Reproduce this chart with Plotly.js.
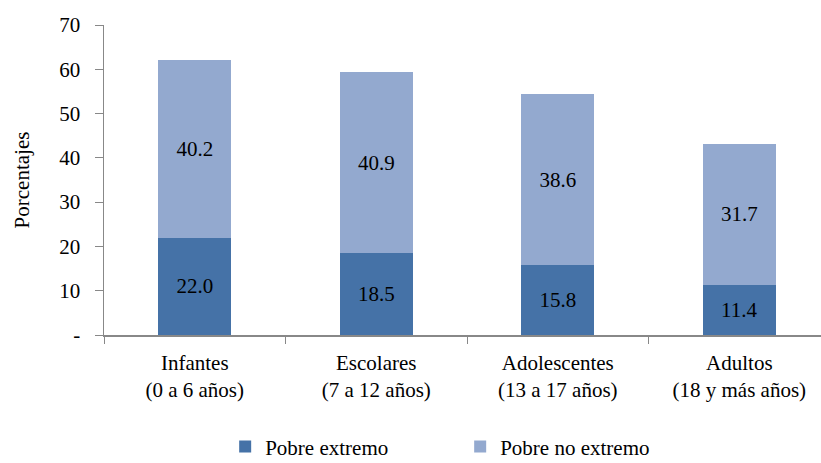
<!DOCTYPE html>
<html><head><meta charset="utf-8">
<script src="https://cdn.plot.ly/plotly-3.0.1.min.js"></script>
<style>body{margin:0}#c{width:821px;height:463px}</style>
</head><body><div id="c"></div>
<script>
const categories = ["Infantes<br>(0 a 6 años)", "Escolares<br>(7 a 12 años)", "Adolescentes<br>(13 a 17 años)", "Adultos<br>(18 y más años)"];
const extremo = [22.0, 18.5, 15.8, 11.4];
const noExtremo = [40.2, 40.9, 38.6, 31.7];
const yTickVals = [0, 10, 20, 30, 40, 50, 60, 70];
const yTickText = ["-", "10", "20", "30", "40", "50", "60", "70"];

const F = "Liberation Serif";
const traces = [
  {type:"bar", name:"Pobre extremo", x:categories, y:extremo, marker:{color:"#4572A7"},
   width:0.4, texttemplate:"%{y:.1f}", textposition:"inside", insidetextanchor:"middle",
   textfont:{family:F, size:21, color:"#000"}, hoverinfo:"none"},
  {type:"bar", name:"Pobre no extremo", x:categories, y:noExtremo, marker:{color:"#93A9CF"},
   width:0.4, texttemplate:"%{y:.1f}", textposition:"inside", insidetextanchor:"middle",
   textfont:{family:F, size:21, color:"#000"}, hoverinfo:"none"}
];
const layout = {
  width:821, height:463, barmode:"stack",
  margin:{l:104, r:0, t:25, b:128, autoexpand:false},
  paper_bgcolor:"#fff", plot_bgcolor:"#fff",
  font:{family:F, size:21, color:"#000"},
  showlegend:true,
  legend:{orientation:"h", x:0.169, xanchor:"left", yref:"container", y:0.035, yanchor:"middle",
          font:{family:F, size:21}, entrywidth:190, traceorder:"normal"},
  xaxis:{type:"category", range:[-0.5, 3.45], showline:true, linecolor:"#888", linewidth:1.5,
         ticks:"outside", tickson:"boundaries", ticklen:7, tickcolor:"#888",
         showgrid:false, zeroline:false, tickfont:{family:F, size:21}, ticklabelstandoff:8},
  yaxis:{range:[0,70], tickvals:yTickVals, ticktext:yTickText, showline:true, linecolor:"#888",
         linewidth:1.5, ticks:"outside", ticklen:8, tickcolor:"#888", showgrid:false, zeroline:false,
         tickfont:{family:F, size:21}, ticklabelstandoff:10,
         title:{text:"Porcentajes", font:{family:F, size:21}, standoff:24}}
};
Plotly.newPlot("c", traces, layout, {staticPlot:true});
</script></body></html>
